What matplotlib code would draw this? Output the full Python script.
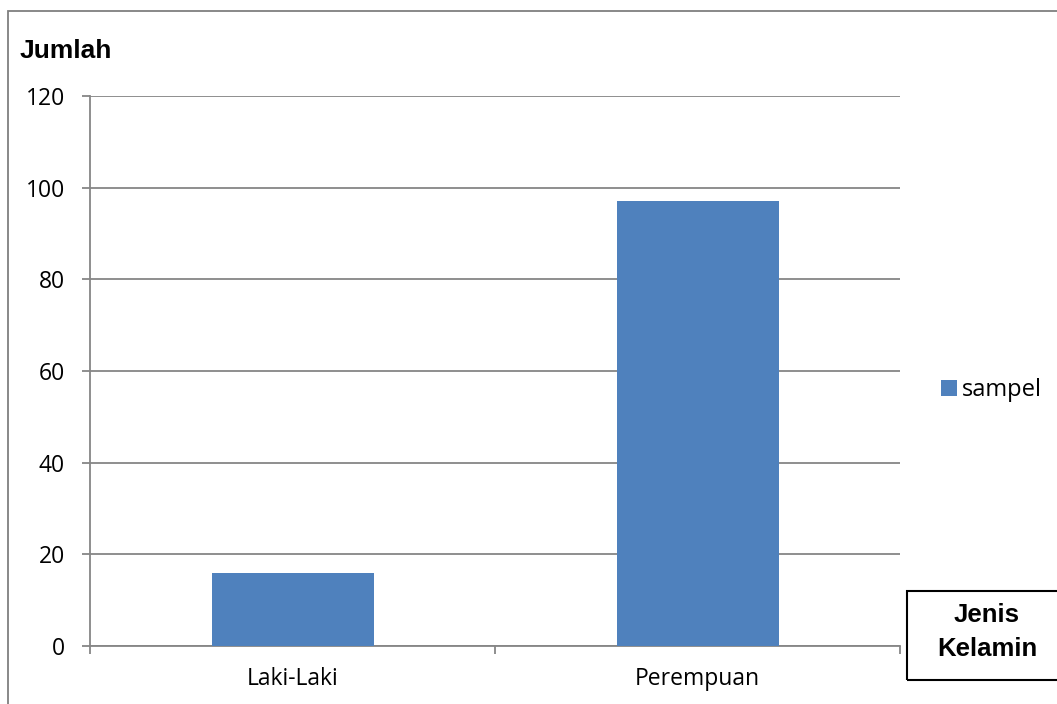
import matplotlib
matplotlib.use('Agg')
import matplotlib.pyplot as plt
from matplotlib.patches import Rectangle

#data
categories = ['Laki-Laki', 'Perempuan']
sampel = [16, 97]
y_ticks = [0, 20, 40, 60, 80, 100, 120]

W, H = 1057, 704
fig = plt.figure(figsize=(W / 100, H / 100), dpi=100)
fig.patch.set_facecolor('white')

#plot area in pixels: x 90..900, y 96..646
ax = fig.add_axes([90 / W, 1 - 646 / H, 810 / W, 550 / H])

bar_color = '#4F81BD'
grid_color = '#868686'
font = ['Open Sans', 'DejaVu Sans']
tick_size = 16.5

x = list(range(len(categories)))
ax.bar(x, sampel, width=0.4, color=bar_color, zorder=3, label='sampel')

ax.set_xlim(-0.5, len(categories) - 0.5)
ax.set_ylim(0, 120)
ax.set_yticks(y_ticks)
ax.set_yticklabels([str(v) for v in y_ticks], fontfamily=font, fontsize=tick_size)
ax.yaxis.grid(True, color=grid_color, linewidth=1.3, zorder=0)
ax.set_axisbelow(True)

#category boundary ticks, labels in between
ax.set_xticks([i - 0.5 for i in range(len(categories) + 1)])
ax.set_xticklabels([])
ax.set_xticks(x, minor=True)
ax.set_xticklabels(categories, minor=True, fontfamily=font, fontsize=tick_size)
ax.tick_params(axis='x', which='minor', length=0, pad=15)
ax.tick_params(axis='x', which='major', length=6, width=1.3, color=grid_color)
ax.tick_params(axis='y', length=6, width=1.3, color=grid_color, pad=12)

for s in ['top', 'right']:
    ax.spines[s].set_visible(False)
for s in ['left', 'bottom']:
    ax.spines[s].set_color(grid_color)
    ax.spines[s].set_linewidth(1.3)

#axis titles
fig.text(20 / W, 1 - 51 / H, 'Jumlah', fontfamily=['Liberation Sans', 'DejaVu Sans'],
         fontsize=19, fontweight='bold', va='center', ha='left')
fig.text(987 / W, 1 - 632 / H, 'Jenis\nKelamin', fontfamily=['Liberation Sans', 'DejaVu Sans'],
         fontsize=18.5, fontweight='bold', va='center', ha='center', linespacing=1.5)
fig.add_artist(Rectangle((907 / W, 1 - 680 / H), 160 / W, 89 / H, transform=fig.transFigure,
                         fill=False, edgecolor='black', linewidth=1.5))

#legend
fig.legend(loc='center left', bbox_to_anchor=(932 / W, 1 - 390 / H), frameon=False,
           prop={'family': font, 'size': 17}, handlelength=0.65, handleheight=0.65,
           handletextpad=0.2, borderaxespad=0)

#chart border
fig.add_artist(Rectangle((8 / W, -0.05), 1.1, 1.05 - 11 / H, transform=fig.transFigure,
                         fill=False, edgecolor='#7f7f7f', linewidth=1.3))

plt.savefig('out.png', dpi=100)
